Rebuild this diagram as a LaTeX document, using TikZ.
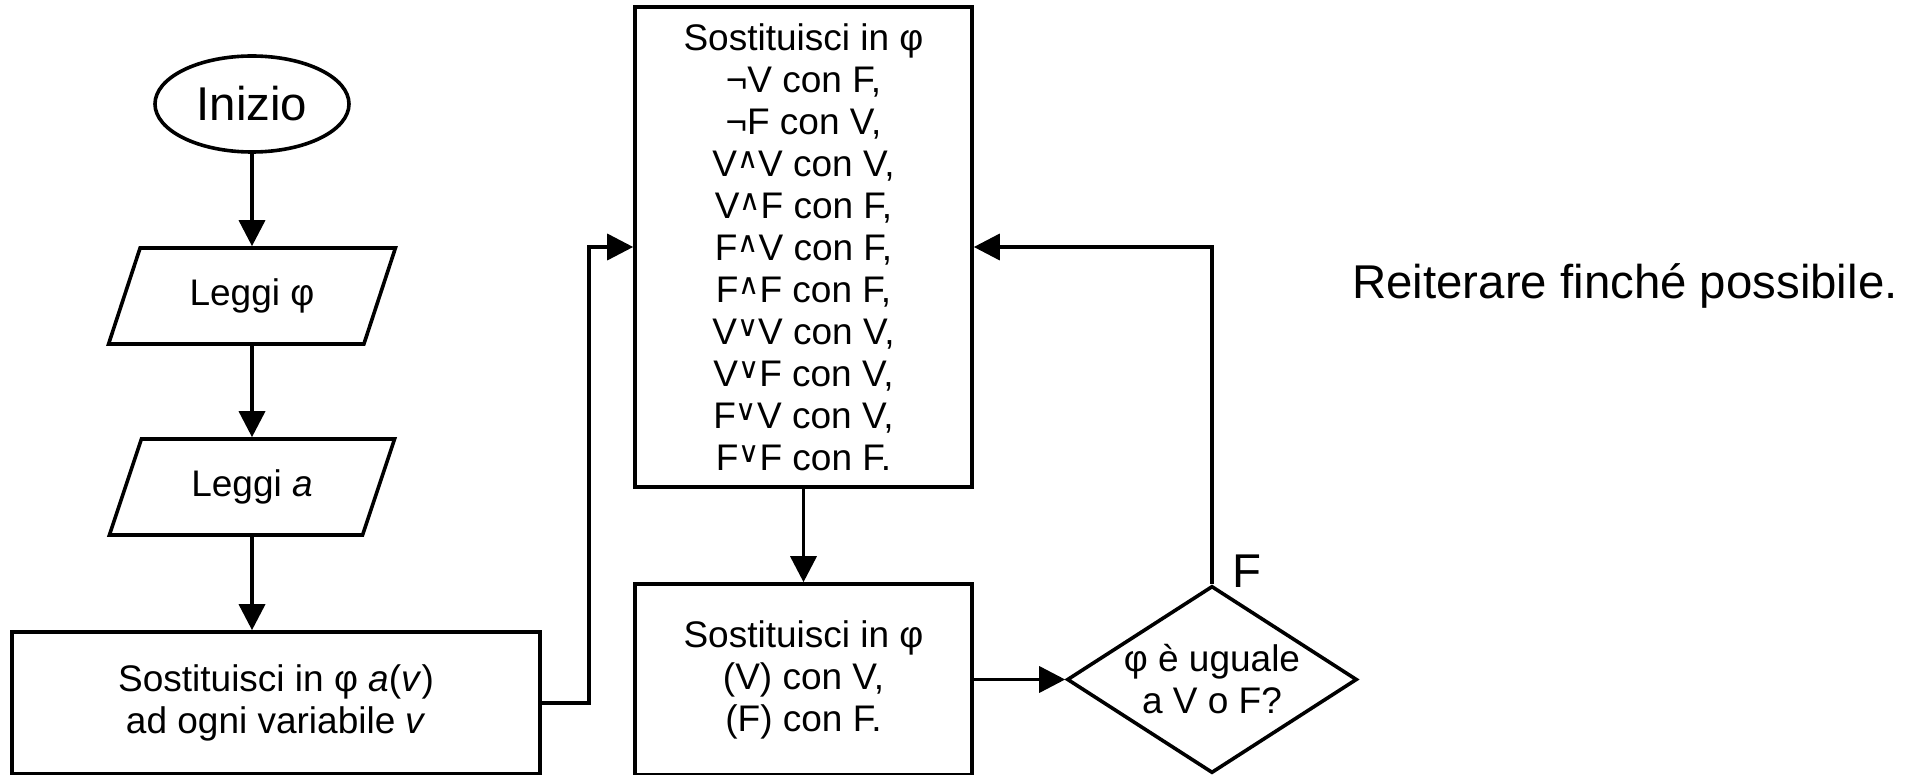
\documentclass[tikz,border=0pt]{standalone}
\usepackage{fontspec}
\setmainfont{Liberation Sans}
\newfontfamily\symfont{DejaVu Sans}
\usetikzlibrary{shapes.geometric,arrows.meta,positioning}
\newcommand{\opand}{\raisebox{4pt}{\symfont\fontsize{14.5}{14.5}\selectfont ∧}}
\newcommand{\opor}{\raisebox{4pt}{\symfont\fontsize{14.5}{14.5}\selectfont ∨}}
\newcommand{\opnot}{¬}

\begin{document}
\begin{tikzpicture}[x=0.5pt, y=-0.5pt, line width=1.8pt,
    every node/.style={font=\fontsize{18.5}{21}\selectfont, align=center},
    big/.style={font=\fontsize{23.7}{28}\selectfont},
    startstop/.style={draw, ellipse, inner sep=0pt, minimum width=97pt, minimum height=48pt},
    io/.style={draw, trapezium, trapezium left angle=63, trapezium right angle=117,
      trapezium stretches=true, inner sep=0pt, minimum width=143.5pt, minimum height=48pt},
    process/.style={draw, rectangle, inner sep=0pt},
    decision/.style={draw, diamond, aspect=1.5, inner sep=0pt},
    flow/.style={-{Triangle[length=13pt,width=13pt]}}]
    \useasboundingbox (0,0) rectangle (1919,775);
    \node (start) [startstop, big] at (252,104) {Inizio};
    \node (readphi) [io] at (252,296) {Leggi φ};
    \node (reada) [io] at (252,487) {Leggi \textit{a}};
    \node (assign) [process, minimum width=264pt, minimum height=71pt] at (276,703)
      {Sostituisci in φ \textit{a}(\textit{v})\\ ad ogni variabile \textit{v}};
    \node (rules) [process, minimum width=168.5pt, minimum height=240pt] at (803.5,247)
      {Sostituisci in φ\\
       \opnot V con F,\\
       \opnot F con V,\\
       V\opand V con V,\\
       V\opand F con F,\\
       F\opand V con F,\\
       F\opand F con F,\\
       V\opor V con V,\\
       V\opor F con V,\\
       F\opor V con V,\\
       F\opor F con F.};
    \node (simplify) [process, minimum width=168.5pt, minimum height=95.5pt] at (803.5,679.5)
      {Sostituisci in φ\\(V) con V,\\(F) con F.};
    \node (check) [decision, minimum width=145pt] at (1212,679.5) {φ è uguale\\a V o F?};
    \node (false) [big, anchor=base west, inner sep=0pt] at (1231,587) {F};
    \node (note) [big] at (1625,286) {Reiterare finché possibile.};
    \draw[flow] (start) -- (readphi);
    \draw[flow] (readphi) -- (reada);
    \draw[flow] (reada.south) -- (reada.south |- assign.north);
    \draw[flow] (assign.east) -- ++(47,0) |- (rules.west);
    \draw[flow] (rules) -- (simplify);
    \draw[flow] (simplify.east) -- (simplify.east -| check.west);
    \draw[flow] (check.north) |- (rules.east);
\end{tikzpicture}
\end{document}
